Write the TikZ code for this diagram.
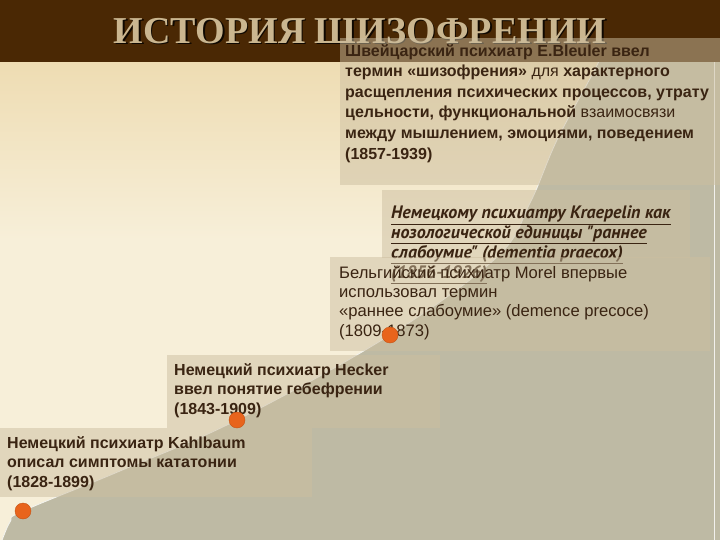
\documentclass[tikz,border=0pt]{standalone}
\usepackage{fontspec}
\setmainfont{Liberation Sans}
\newfontfamily\titlefont{Liberation Serif}
\newfontfamily\italfont{PT Sans}
\usetikzlibrary{positioning}
\definecolor{band}{RGB}{74,40,4}
\definecolor{creamtop}{RGB}{238,220,178}
\definecolor{creambot}{RGB}{247,239,217}
\definecolor{hill}{RGB}{190,186,164}
\definecolor{boxtan}{RGB}{204,190,160}
\definecolor{ink}{RGB}{58,36,18}
\definecolor{dotorange}{RGB}{232,100,28}
\definecolor{dotedge}{RGB}{196,84,22}
\definecolor{titletan}{RGB}{202,182,144}
\begin{document}
\begin{tikzpicture}[x=1pt, y=-1pt,
  box/.style={fill=boxtan, fill opacity=.5, inner sep=0, anchor=north west},
  txt/.style={text=ink, align=left, inner sep=0, anchor=north west,
    font=\bfseries\fontsize{16}{19.6}\selectfont},
  dot/.style={circle, fill=dotorange, draw=dotedge, inner sep=0, minimum size=16pt},
  heading/.style={font=\titlefont\bfseries\fontsize{38}{38}\selectfont}]
\useasboundingbox (0,0) rectangle (720,540);
\shade [top color=creamtop, bottom color=creambot] (0,60) rectangle (720,240);
\fill [creambot] (0,240) rectangle (720,540);
\coordinate (kahlbaumpt) at (23,511);
\coordinate (heckerpt) at (237,420);
\coordinate (morelpt) at (390,335);
\fill [hill] plot [smooth, tension=.6] coordinates {(0,546) (10,522) (kahlbaumpt) (120,471)
  (heckerpt) (morelpt) (497,257) (530,203) (557,140) (593,73) (612,35)}
  -- (720,35) -- (720,540) -- (0,546) -- cycle;
\draw [white!85!hill, line width=.8pt] plot [smooth, tension=.6] coordinates {(0,546) (10,522)
  (kahlbaumpt) (120,471) (heckerpt) (morelpt) (497,257) (530,203) (557,140) (593,73) (612,35)};
\draw [white!80!hill, line width=1pt] (714,45) -- (714,540);
\fill [band] (0,0) rectangle (720,62);
\node [heading, text=black!80!band] (titleshadow) at (361.5,32.5) {ИСТОРИЯ ШИЗОФРЕНИИ};
\node [heading, text=titletan] (title) at (360,31) {ИСТОРИЯ ШИЗОФРЕНИИ};

\node [box, minimum width=380, minimum height=147] (bleulerbox) at (340,38) {};
\node [txt, font=\bfseries\fontsize{16}{20.6}\selectfont,
  below right=6pt and 5pt of bleulerbox.north west] (bleuler)
  {Швейцарский психиатр E.Bleuler ввел\\
   термин «шизофрения» {\mdseries для} характерного\\
   расщепления психических процессов, утрату\\
   цельности, функциональной {\mdseries взаимосвязи}\\
   между мышлением, эмоциями, поведением\\
   (1857-1939)};

\node [box, minimum width=308, minimum height=68] (kraepelinbox) at (382,190) {};
\node [txt, font=\italfont\bfseries\itshape\fontsize{18}{18.4}\selectfont,
  below right=16pt and 9pt of kraepelinbox.north west] (kraepelin)
  {\underline{Немецкому психиатру Kraepelin как}\\
   \underline{нозологической единицы "раннее}\\
   \underline{слабоумие" (dementia praecox)}\\
   \underline{(1856-1926)}};

\node [box, minimum width=380, minimum height=94] (morelbox) at (330,257) {};
\node [txt, font=\fontsize{16.6}{19.2}\selectfont,
  below right=9pt and 9pt of morelbox.north west] (morel)
  {Бельгийский психиатр Morel впервые\\
   использовал термин\\
   «раннее слабоумие» (demence precoce)\\
   (1809-1873)};

\node [box, minimum width=273, minimum height=73] (heckerbox) at (167,355) {};
\node [txt, below right=8pt and 7pt of heckerbox.north west] (hecker)
  {Немецкий психиатр Hecker\\
   ввел понятие гебефрении\\
   (1843-1909)};

\node [box, minimum width=312, minimum height=69] (kahlbaumbox) at (0,428) {};
\node [txt, below right=8pt and 7pt of kahlbaumbox.north west] (kahlbaum)
  {Немецкий психиатр Kahlbaum\\
   описал симптомы кататонии\\
   (1828-1899)};

\node [dot] (kahlbaumdot) at (kahlbaumpt) {};
\node [dot] (heckerdot) at (heckerpt) {};
\node [dot] (moreldot) at (morelpt) {};
\end{tikzpicture}
\end{document}
